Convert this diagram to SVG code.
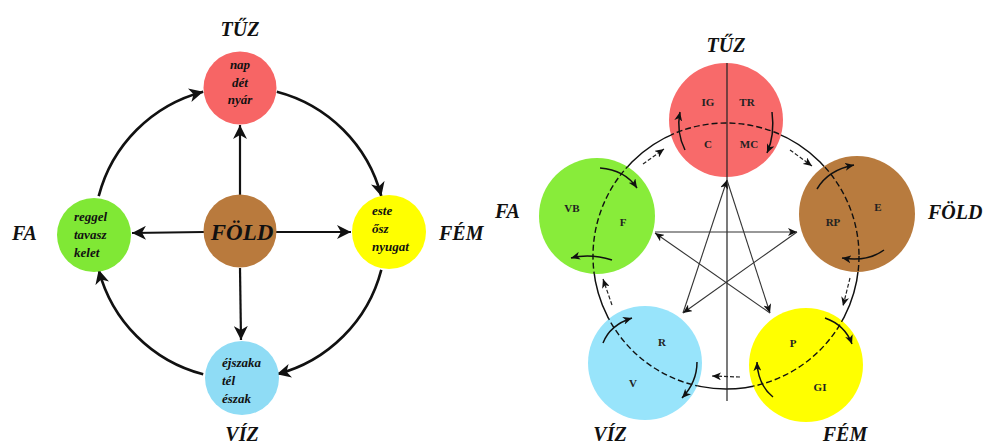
<svg xmlns="http://www.w3.org/2000/svg" width="987" height="445" viewBox="0 0 987 445">
<style>
.lbl{font-family:"Liberation Serif",serif;font-weight:bold;font-style:italic;font-size:20px;fill:#111}
.nt{font-family:"Liberation Serif",serif;font-weight:bold;font-style:italic;font-size:13px;fill:#111}
.big{font-family:"Liberation Serif",serif;font-weight:bold;font-style:italic;font-size:23px;fill:#111}
.st{font-family:"Liberation Serif",serif;font-weight:bold;font-size:11px;fill:#222}
.arc{fill:none;stroke:#111;stroke-width:2.6}
.ln{fill:none;stroke:#111;stroke-width:2.2}
.thin{fill:none;stroke:#333;stroke-width:1.1}
.cur{fill:none;stroke:#111;stroke-width:1.5}
.dsh{fill:none;stroke:#222;stroke-width:1.2;stroke-dasharray:4 2}
</style>
<defs>
<marker id="ah" markerUnits="userSpaceOnUse" markerWidth="16" markerHeight="14" refX="14" refY="7" orient="auto">
<path d="M0,0 L14,7 L0,14 L4,7 z" fill="#111"/>
</marker>
<marker id="sa" markerUnits="userSpaceOnUse" markerWidth="10" markerHeight="8" refX="9" refY="4" orient="auto">
<path d="M0,0 L9,4 L0,8 L2.5,4 z" fill="#111"/>
</marker>
<clipPath id="nodeclip">
<circle cx="726" cy="120" r="57"/>
<circle cx="857" cy="214" r="58"/>
<circle cx="806" cy="365" r="57"/>
<circle cx="645" cy="363" r="57"/>
<circle cx="597" cy="216" r="58"/>
</clipPath>
</defs>

<!-- LEFT DIAGRAM -->
<g id="left-connectors">
<path class="arc" d="M98.7,196.2 A146,146 0 0 1 203.2,91.7" marker-end="url(#ah)"/>
<path class="arc" d="M276.8,91.7 A146,146 0 0 1 381.3,196.2" marker-end="url(#ah)"/>
<path class="arc" d="M381.3,269.8 A146,146 0 0 1 276.8,374.3" marker-end="url(#ah)"/>
<path class="arc" d="M203.2,374.3 A146,146 0 0 1 98.7,269.8" marker-end="url(#ah)"/>
<path class="ln" d="M240,196 L240,125" marker-end="url(#ah)"/>
<path class="ln" d="M204,232 L132,233" marker-end="url(#ah)"/>
<path class="ln" d="M276,232 L351,232" marker-end="url(#ah)"/>
<path class="ln" d="M240,268 L241,340" marker-end="url(#ah)"/>
</g>
<g id="l-tuz">
<circle cx="240" cy="88" r="36.5" fill="#f76565"/>
<text class="nt" x="240" y="69" text-anchor="middle">nap</text>
<text class="nt" x="240" y="87" text-anchor="middle">dét</text>
<text class="nt" x="240" y="104" text-anchor="middle">nyár</text>
<text class="lbl" x="240" y="36" text-anchor="middle">TŰZ</text>
</g>
<g id="l-fold">
<circle cx="240" cy="231" r="36.5" fill="#b97a3d"/>
<text class="big" x="242" y="240" text-anchor="middle">FÖLD</text>
</g>
<g id="l-fa">
<circle cx="94" cy="235" r="37" fill="#80e835"/>
<text class="nt" x="74" y="221">reggel</text>
<text class="nt" x="74" y="239">tavasz</text>
<text class="nt" x="74" y="257">kelet</text>
<text class="lbl" x="12" y="240">FA</text>
</g>
<g id="l-fem">
<circle cx="389" cy="232" r="37" fill="#ffff00"/>
<text class="nt" x="372" y="215">este</text>
<text class="nt" x="372" y="233">ősz</text>
<text class="nt" x="372" y="251">nyugat</text>
<text class="lbl" x="439" y="240">FÉM</text>
</g>
<g id="l-viz">
<circle cx="242" cy="378" r="37" fill="#8fdcf5"/>
<text class="nt" x="222" y="367">éjszaka</text>
<text class="nt" x="222" y="385">tél</text>
<text class="nt" x="222" y="403">észak</text>
<text class="lbl" x="242" y="441" text-anchor="middle">VÍZ</text>
</g>

<!-- RIGHT DIAGRAM -->
<g id="right-cycle">
<circle cx="726" cy="256" r="133" fill="none" stroke="#111" stroke-width="1.5"/>
</g>
<g id="r-tuz">
<circle cx="726" cy="120" r="57" fill="#f86a6a"/>
<text class="st" x="708" y="106" text-anchor="middle">IG</text>
<text class="st" x="747" y="106" text-anchor="middle">TR</text>
<text class="st" x="708" y="148" text-anchor="middle">C</text>
<text class="st" x="749" y="148" text-anchor="middle">MC</text>
<text class="lbl" x="726" y="52" text-anchor="middle">TŰZ</text>
</g>
<g id="r-fold">
<circle cx="857" cy="214" r="58" fill="#b87b3e"/>
<text class="st" x="878" y="211" text-anchor="middle">E</text>
<text class="st" x="833" y="226" text-anchor="middle">RP</text>
<text class="lbl" x="928" y="219">FÖLD</text>
</g>
<g id="r-fem">
<circle cx="806" cy="365" r="57" fill="#ffff00"/>
<text class="st" x="793" y="347" text-anchor="middle">P</text>
<text class="st" x="820" y="391" text-anchor="middle">GI</text>
<text class="lbl" x="845" y="441" text-anchor="middle">FÉM</text>
</g>
<g id="r-viz">
<circle cx="645" cy="363" r="57" fill="#98e4fb"/>
<text class="st" x="662" y="346" text-anchor="middle">R</text>
<text class="st" x="633" y="387" text-anchor="middle">V</text>
<text class="lbl" x="610" y="441" text-anchor="middle">VÍZ</text>
</g>
<g id="r-fa">
<circle cx="597" cy="216" r="58" fill="#88ec3a"/>
<text class="st" x="572" y="212" text-anchor="middle">VB</text>
<text class="st" x="623" y="226" text-anchor="middle">F</text>
<text class="lbl" x="495" y="218">FA</text>
</g>
<g id="right-connectors">
<circle cx="726" cy="256" r="133" fill="none" stroke="#111" stroke-width="1.4" stroke-dasharray="6 3" clip-path="url(#nodeclip)"/>
<line x1="727" y1="63" x2="727" y2="401" stroke="#222" stroke-width="1.2"/>
<path class="thin" d="M655,232 L797,232" marker-end="url(#sa)"/>
<path class="thin" d="M797,232 L683,313" marker-end="url(#sa)"/>
<path class="thin" d="M683,313 L727,180" marker-end="url(#sa)"/>
<path class="thin" d="M727,180 L770,313" marker-end="url(#sa)"/>
<path class="thin" d="M770,313 L655,233" marker-end="url(#sa)"/>
<path class="cur" d="M685,150 Q676,132 680,112" marker-end="url(#sa)"/>
<path class="cur" d="M772,112 Q775,135 767,153" marker-end="url(#sa)"/>
<path class="dsh" d="M790,150 L812,166" marker-end="url(#sa)"/>
<path class="cur" d="M817,189 Q828,170 854,165" marker-end="url(#sa)"/>
<path class="cur" d="M884,250 Q868,262 842,258" marker-end="url(#sa)"/>
<path class="dsh" d="M850,278 L843,306" marker-end="url(#sa)"/>
<path class="cur" d="M825,318 Q845,325 852,344" marker-end="url(#sa)"/>
<path class="cur" d="M773,397 Q758,385 757,362" marker-end="url(#sa)"/>
<path class="dsh" d="M740,377 L712,376" marker-end="url(#sa)"/>
<path class="cur" d="M697,362 Q697,382 682,398" marker-end="url(#sa)"/>
<path class="cur" d="M603,343 Q610,325 632,318" marker-end="url(#sa)"/>
<path class="dsh" d="M612,305 L603,279" marker-end="url(#sa)"/>
<path class="cur" d="M600,168 Q625,170 637,188" marker-end="url(#sa)"/>
<path class="cur" d="M612,260 Q590,253 571,258" marker-end="url(#sa)"/>
<path class="dsh" d="M643,164 L664,149" marker-end="url(#sa)"/>
</g>
</svg>
